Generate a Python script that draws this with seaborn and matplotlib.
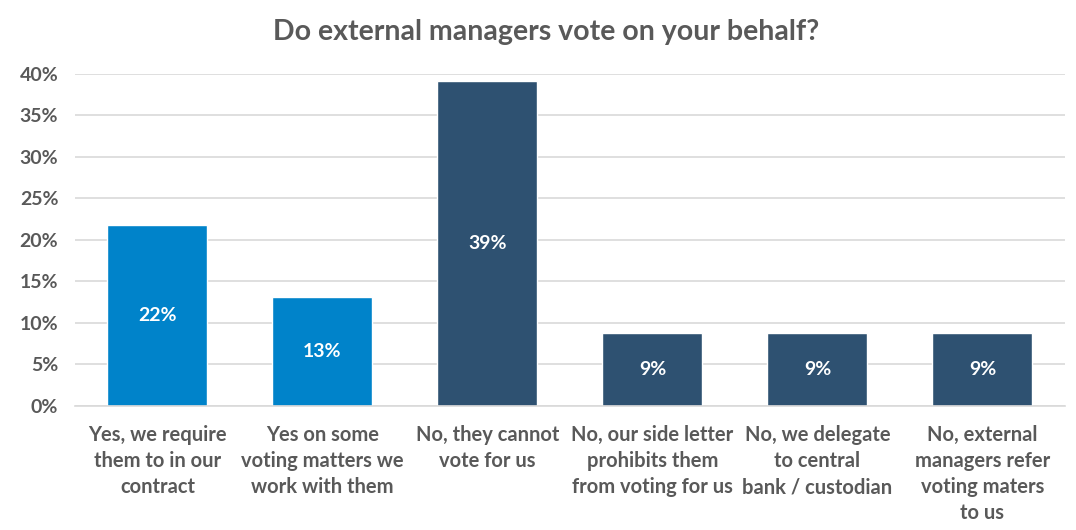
import matplotlib
matplotlib.use("Agg")
import matplotlib.pyplot as plt
import seaborn as sns
import pandas as pd

categories = [
    "Yes, we require\nthem to in our\ncontract",
    "Yes on some\nvoting matters we\nwork with them",
    "No, they cannot\nvote for us",
    "No, our side letter\nprohibits them\nfrom voting for us",
    "No, we delegate\nto central\nbank / custodian",
    "No, external\nmanagers refer\nvoting maters\nto us",
]
values = [21.8, 13.1, 39.2, 8.8, 8.8, 8.8]
labels = ["22%", "13%", "39%", "9%", "9%", "9%"]
groups = ["Yes", "Yes", "No", "No", "No", "No"]
yticks = [0, 5, 10, 15, 20, 25, 30, 35, 40]

sns.set_theme(style="white")
plt.rcParams["font.family"] = ["Lato", "DejaVu Sans"]

df = pd.DataFrame({"cat": categories, "val": values, "grp": groups})

fig = plt.figure(figsize=(10.76, 5.30), dpi=100)
ax = fig.add_axes([0.0697, 0.234, 0.920, 0.6264])
sns.barplot(data=df, x="cat", y="val", hue="grp",
            palette={"Yes": "#0083CA", "No": "#2E5171"},
            dodge=False, width=0.606, legend=False, ax=ax, saturation=1)

ax.set_ylim(0, 40)
ax.set_yticks(yticks)
ax.set_yticklabels([f"{t}%" for t in yticks], fontsize=14, fontweight="bold", color="#595959")
ax.set_xlim(-0.5, 5.5)
ax.grid(axis="y", color="#D9D9D9", linewidth=1.2)
ax.set_axisbelow(True)
for s in ["top", "right", "left"]:
    ax.spines[s].set_visible(False)
ax.spines["bottom"].set_color("#D9D9D9")
ax.spines["bottom"].set_linewidth(1.2)
ax.tick_params(axis="both", length=0)
ax.tick_params(axis="y", pad=12)
ax.tick_params(axis="x", pad=14)
ax.set_xticks(range(len(categories)))
ax.set_xticklabels(categories, fontsize=14.5, fontweight="bold", color="#595959", linespacing=1.37)
ax.set_xlabel("")
ax.set_ylabel("")

for i, (v, lab) in enumerate(zip(values, labels)):
    ax.text(i, v / 2, lab, ha="center", va="center", color="white", fontsize=14, fontweight="bold")

fig.suptitle("Do external managers vote on your behalf?", x=0.508, y=0.965,
             fontsize=20.5, fontweight="bold", color="#595959")

fig.savefig("out.png", dpi=100, facecolor="white")
